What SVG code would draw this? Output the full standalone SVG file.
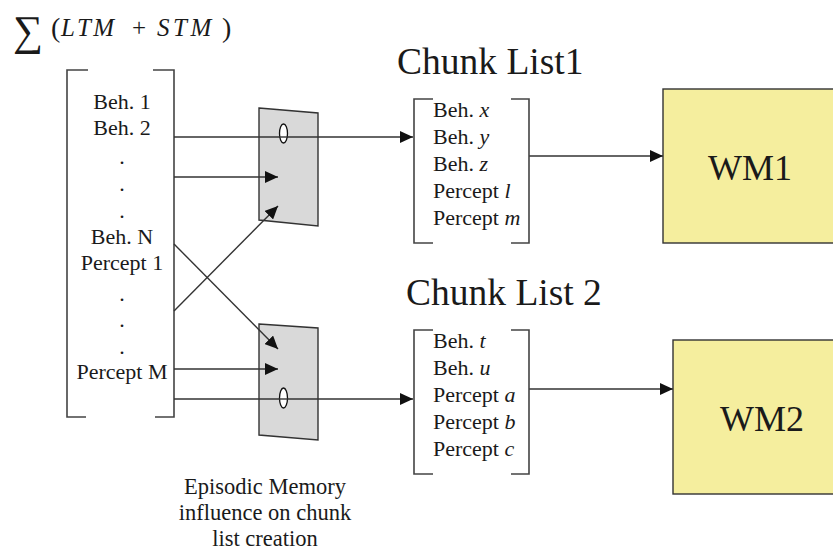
<svg xmlns="http://www.w3.org/2000/svg" width="833" height="552" viewBox="0 0 833 552">
<style>
.t{font-family:'Liberation Serif',Tinos,'Times New Roman','DejaVu Serif',serif;fill:#1a1a1a}
.s{font-size:22px}
.ln{stroke:#333;stroke-width:1.4;fill:none}
.br{stroke:#444;stroke-width:1.6;fill:none}
.mux{fill:#d9d9d9;stroke:#333;stroke-width:1.4}
.wm{fill:#f5ee9e;stroke:#333;stroke-width:1.4}
.ov{fill:#fff;stroke:#111;stroke-width:1.3}
</style>
<defs>
<marker id="ah" markerUnits="userSpaceOnUse" markerWidth="14" markerHeight="12" refX="13" refY="6" orient="auto">
<path d="M0,0 L13,6 L0,12 Z" fill="#111"/>
</marker>
</defs>
<g id="formula">
<text class="t" x="13" y="45" font-size="42">∑</text>
<text class="t" x="51" y="37" font-size="28">(</text>
<text class="t" x="61" y="36" font-size="25" font-style="italic" letter-spacing="2.5">LTM</text>
<text class="t" x="132" y="36" font-size="25">+</text>
<text class="t" x="157" y="36" font-size="25" font-style="italic" letter-spacing="3.5">STM</text>
<text class="t" x="222" y="37" font-size="28">)</text>
</g>
<g id="ltm-stm-list">
<path class="br" d="M88,70 H67 V417 H86"/>
<path class="br" d="M153,70 H174 V417 H155"/>
<g class="t s" text-anchor="middle">
<text x="122" y="109">Beh. 1</text>
<text x="122" y="135">Beh. 2</text>
<text x="122" y="164">.</text>
<text x="122" y="191">.</text>
<text x="122" y="218">.</text>
<text x="122" y="244">Beh. N</text>
<text x="122" y="270">Percept 1</text>
<text x="122" y="301">.</text>
<text x="122" y="327">.</text>
<text x="122" y="354">.</text>
<text x="122" y="379">Percept M</text>
</g>
</g>
<g id="mux1">
<polygon class="mux" points="259,108 318,113 318,226 259,220"/>
</g>
<g id="mux2">
<polygon class="mux" points="259,324 318,328 318,440 259,435"/>
</g>
<g id="connectors">
<line class="ln" x1="174" y1="137" x2="318" y2="137"/>
<line class="ln" x1="318" y1="137" x2="413" y2="137" marker-end="url(#ah)"/>
<line class="ln" x1="174" y1="177" x2="278" y2="177" marker-end="url(#ah)"/>
<line class="ln" x1="174" y1="311" x2="278" y2="206" marker-end="url(#ah)"/>
<line class="ln" x1="174" y1="244" x2="278" y2="349" marker-end="url(#ah)"/>
<line class="ln" x1="174" y1="369" x2="278" y2="369" marker-end="url(#ah)"/>
<line class="ln" x1="174" y1="399" x2="318" y2="399"/>
<line class="ln" x1="318" y1="399" x2="413" y2="399" marker-end="url(#ah)"/>
<line class="ln" x1="529" y1="156" x2="663" y2="156" marker-end="url(#ah)"/>
<line class="ln" x1="529" y1="389" x2="673" y2="389" marker-end="url(#ah)"/>
</g>
<g id="switches">
<ellipse class="ov" cx="283.5" cy="133.5" rx="4" ry="9.5"/>
<line class="ln" x1="279" y1="137" x2="288" y2="137"/>
<ellipse class="ov" cx="283.5" cy="398" rx="4" ry="10"/>
<line class="ln" x1="279" y1="399" x2="288" y2="399"/>
</g>
<g id="chunk-list-1">
<text class="t" x="397" y="74" font-size="37.5">Chunk List1</text>
<path class="br" d="M433,99 H414 V243 H433"/>
<path class="br" d="M511,99 H529 V243 H511"/>
<g class="t s">
<text x="433" y="117">Beh. <tspan font-style="italic">x</tspan></text>
<text x="433" y="144">Beh. <tspan font-style="italic">y</tspan></text>
<text x="433" y="171">Beh. <tspan font-style="italic">z</tspan></text>
<text x="433" y="198">Percept <tspan font-style="italic">l</tspan></text>
<text x="433" y="225">Percept <tspan font-style="italic">m</tspan></text>
</g>
</g>
<g id="chunk-list-2">
<text class="t" x="406" y="305" font-size="37.5">Chunk List 2</text>
<path class="br" d="M433,330 H414 V474 H433"/>
<path class="br" d="M511,330 H529 V474 H511"/>
<g class="t s">
<text x="433" y="348">Beh. <tspan font-style="italic">t</tspan></text>
<text x="433" y="375">Beh. <tspan font-style="italic">u</tspan></text>
<text x="433" y="402">Percept <tspan font-style="italic">a</tspan></text>
<text x="433" y="429">Percept <tspan font-style="italic">b</tspan></text>
<text x="433" y="456">Percept <tspan font-style="italic">c</tspan></text>
</g>
</g>
<g id="wm1">
<rect class="wm" x="663" y="89" width="180" height="154"/>
<text class="t" x="750" y="180" font-size="36" text-anchor="middle">WM1</text>
</g>
<g id="wm2">
<rect class="wm" x="673" y="340" width="170" height="154"/>
<text class="t" x="762" y="431" font-size="36" text-anchor="middle">WM2</text>
</g>
<g id="caption" class="t" font-size="22.5" text-anchor="middle">
<text x="265" y="494">Episodic Memory</text>
<text x="265" y="520">influence on chunk</text>
<text x="265" y="546">list creation</text>
</g>
</svg>
